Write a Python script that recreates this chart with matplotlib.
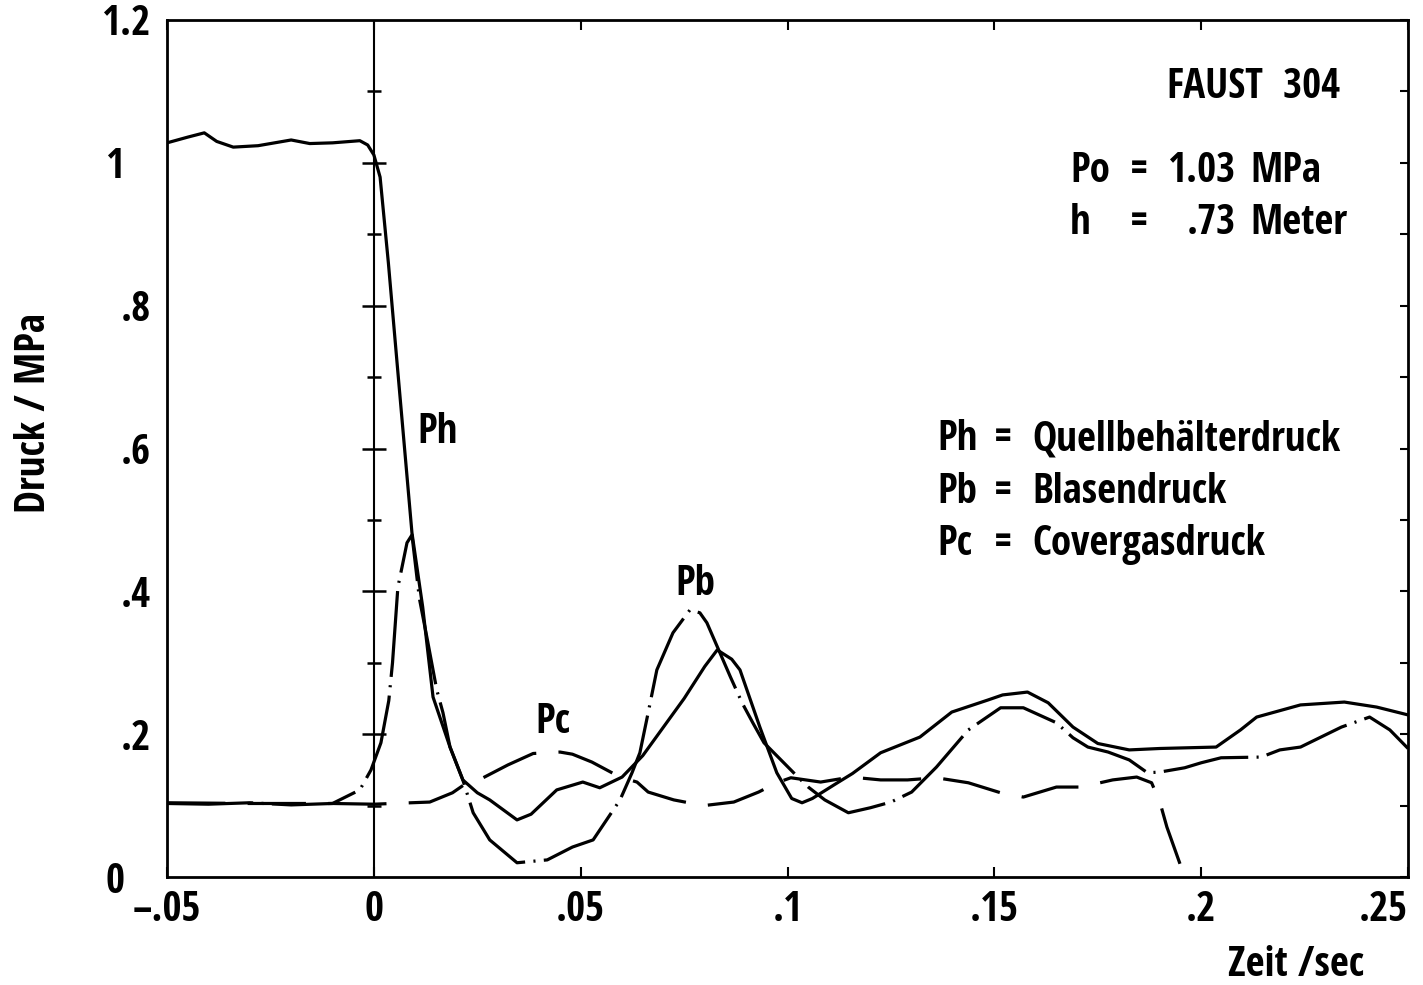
import numpy as np
import matplotlib
matplotlib.use("Agg")
import matplotlib.pyplot as plt
from matplotlib import font_manager as fm
from matplotlib.transforms import ScaledTranslation

plt.rcParams['lines.scale_dashes'] = False

# Ph = Quellbehaelterdruck (solid)
ph_t = [-0.05, -0.045, -0.041, -0.038, -0.034, -0.028, -0.020, -0.0155, -0.010,
        -0.0034, -0.0015, 0.0, 0.0015, 0.0035, 0.0056, 0.0092, 0.0118, 0.0143,
        0.0184, 0.0215, 0.025, 0.028, 0.0346, 0.038, 0.0442, 0.0505, 0.0546,
        0.060, 0.065, 0.070, 0.075, 0.080, 0.083, 0.0865, 0.0885, 0.0933,
        0.0974, 0.101, 0.1035, 0.106, 0.1115, 0.1157, 0.1225, 0.132, 0.1397,
        0.1485, 0.152, 0.158, 0.163, 0.169, 0.175, 0.1826, 0.190, 0.2036,
        0.2095, 0.2134, 0.224, 0.2346, 0.2424, 0.25]
ph_p = [1.028, 1.036, 1.042, 1.030, 1.022, 1.024, 1.032, 1.027, 1.028,
        1.031, 1.025, 1.011, 0.98, 0.86, 0.72, 0.482, 0.378, 0.252,
        0.182, 0.136, 0.118, 0.108, 0.080, 0.088, 0.122, 0.133, 0.125,
        0.140, 0.170, 0.210, 0.250, 0.295, 0.318, 0.305, 0.290, 0.210,
        0.146, 0.110, 0.104, 0.110, 0.130, 0.145, 0.174, 0.196, 0.231,
        0.248, 0.255, 0.259, 0.244, 0.210, 0.187, 0.178, 0.180, 0.182,
        0.206, 0.224, 0.241, 0.245, 0.238, 0.227]

# Pb = Blasendruck (dash-dot)
pb_t = [-0.05, -0.04, -0.03, -0.02, -0.01, -0.0034, -0.0007, 0.0017, 0.0036,
        0.0045, 0.0058, 0.0068, 0.008, 0.0092, 0.011, 0.013, 0.0152, 0.0167,
        0.0184, 0.0215, 0.024, 0.028, 0.0346, 0.0419, 0.048, 0.053, 0.0595,
        0.0624, 0.0643, 0.0663, 0.0684, 0.0723, 0.0764, 0.0788, 0.0805, 0.0862,
        0.089, 0.0916, 0.0943, 0.0984, 0.1025, 0.105, 0.109, 0.1147, 0.120,
        0.125, 0.130, 0.136, 0.1437, 0.1515, 0.157, 0.165, 0.169, 0.1726,
        0.1775, 0.1826, 0.187, 0.190, 0.196, 0.200, 0.2048, 0.2145, 0.219,
        0.224, 0.2339, 0.2407, 0.2456, 0.25]
pb_p = [0.103, 0.102, 0.104, 0.101, 0.103, 0.122, 0.150, 0.188, 0.247,
        0.300, 0.406, 0.434, 0.468, 0.479, 0.390, 0.330, 0.262, 0.230,
        0.182, 0.136, 0.090, 0.052, 0.020, 0.024, 0.042, 0.052, 0.108,
        0.146, 0.174, 0.230, 0.290, 0.342, 0.374, 0.370, 0.356, 0.280,
        0.244, 0.216, 0.188, 0.164, 0.140, 0.126, 0.108, 0.090, 0.097,
        0.105, 0.119, 0.154, 0.206, 0.237, 0.237, 0.216, 0.195, 0.182,
        0.175, 0.164, 0.146, 0.147, 0.153, 0.160, 0.167, 0.168, 0.178,
        0.182, 0.210, 0.224, 0.206, 0.180]

# Pc = Covergasdruck (long dashes)
pc_t = [-0.05, -0.03, -0.01, 0.0, 0.0135, 0.019, 0.0225, 0.0264, 0.0324,
        0.0385, 0.045, 0.048, 0.0527, 0.0595, 0.0636, 0.0663, 0.0725, 0.0797,
        0.087, 0.093, 0.0974, 0.1008, 0.108, 0.1153, 0.1225, 0.129, 0.136,
        0.1437, 0.1515, 0.157, 0.165, 0.171, 0.1786, 0.1844, 0.188, 0.190,
        0.1917, 0.196]
pc_p = [0.104, 0.103, 0.103, 0.102, 0.105, 0.118, 0.132, 0.139, 0.157,
        0.173, 0.175, 0.172, 0.161, 0.140, 0.133, 0.119, 0.108, 0.100,
        0.105, 0.119, 0.132, 0.139, 0.133, 0.140, 0.136, 0.136, 0.139,
        0.132, 0.118, 0.112, 0.126, 0.126, 0.136, 0.140, 0.132, 0.105,
        0.070, 0.0]

x_ticks = [-0.05, 0.0, 0.05, 0.1, 0.15, 0.2, 0.25]
x_labels = ['\u2013.05', '0', '.05', '.1', '.15', '.2', '.25']
y_ticks = [0.0, 0.2, 0.4, 0.6, 0.8, 1.0, 1.2]
y_labels = ['0', '.2', '.4', '.6', '.8', '1', '1.2']


def pick_font():
    # look for a narrow / condensed bold face, the original is Helvetica Condensed
    bold = [e for e in fm.fontManager.ttflist
            if str(e.weight) in ('700', 'bold') and e.style == 'normal']
    order = ['LiberationSansNarrow', 'NotoSans-CondensedBold', 'NotoSans-SemiCondensedBold',
             'OpenSans-CondBold', 'OpenSans_Condensed-Bold', 'Roboto_Condensed-Bold',
             'RobotoCondensed-Bold', 'DejaVuSansCondensed-Bold']
    for key in order:
        for e in bold:
            base = e.fname.split('/')[-1]
            if base.startswith(key) and ('Cond' in base or 'Narrow' in base):
                return e.fname
    for e in bold:
        base = e.fname.split('/')[-1]
        if ('Cond' in base or 'Narrow' in base) and 'Extra' not in base:
            return e.fname
    return None


font_file = pick_font()
if font_file:
    fs = 29.5
    prop = fm.FontProperties(fname=font_file, size=fs)
else:
    fs = 22
    prop = fm.FontProperties(family='DejaVu Sans', weight='bold', size=fs)

fig = plt.figure(figsize=(14.23, 9.85), dpi=100)
ax = fig.add_axes([0.1174, 0.1096, 0.9895 - 0.1174, 0.9797 - 0.1096])

ax.plot(ph_t, ph_p, color='black', lw=2.3, solid_joinstyle='round')
ax.plot(pb_t, pb_p, color='black', lw=2.3, dashes=(62, 6, 1.5, 6),
        dash_joinstyle='round')
ax.plot(pc_t, pc_p, color='black', lw=2.3, dashes=(42, 16), dash_joinstyle='round')

# vertical line at t = 0 with its own ticks
ax.axvline(0.0, color='black', lw=1.5)
mid = np.arange(1, 12) / 10.0
big = mid[1::2]
small = mid[0::2]
ax.plot(np.zeros_like(big), big, ls='none', marker='_', ms=17, mew=1.8, color='black')
ax.plot(np.zeros_like(small), small, ls='none', marker='_', ms=10, mew=1.8, color='black')

ax.set_xlim(-0.05, 0.25)
ax.set_ylim(0.0, 1.2)
ax.set_xticks(x_ticks)
ax.set_xticklabels(x_labels, fontproperties=prop)
ax.set_yticks(y_ticks)
ax.set_yticklabels(y_labels, fontproperties=prop)
ax.set_yticks(np.arange(0.1, 1.2, 0.2), minor=True)
ax.get_xticklabels()[-1].set_horizontalalignment('right')

for s in ax.spines.values():
    s.set_linewidth(2.0)

ax.tick_params(axis='x', which='both', direction='in', top=True, bottom=True,
               length=7, width=1.5, pad=9)
ax.tick_params(axis='y', which='both', direction='in', left=False, right=True,
               length=6, width=1.5, pad=12)

# integer labels sit left of the decimal point, like the original
shift = ScaledTranslation(-26 / 100, 0, fig.dpi_scale_trans)
for lab in ax.get_yticklabels():
    if '.' not in lab.get_text():
        lab.set_transform(lab.get_transform() + shift)

fig.text(35 / 1423, 1 - 413 / 985, 'Druck / MPa', fontproperties=prop,
         rotation=90, ha='center', va='center')
fig.text(1296 / 1423, 1 - 965 / 985, 'Zeit /sec', fontproperties=prop,
         ha='center', va='center')

# annotation block
ax.text(0.2335, 1.106, 'FAUST  304', fontproperties=prop, ha='right', va='center')
ax.text(0.1683, 0.988, 'Po', fontproperties=prop, ha='left', va='center')
ax.text(0.1850, 0.988, '=', fontproperties=prop, ha='center', va='center')
ax.text(0.1917, 0.988, '1.03', fontproperties=prop, ha='left', va='center')
ax.text(0.2118, 0.988, 'MPa', fontproperties=prop, ha='left', va='center')
ax.text(0.1683, 0.915, 'h', fontproperties=prop, ha='left', va='center')
ax.text(0.1850, 0.915, '=', fontproperties=prop, ha='center', va='center')
ax.text(0.1966, 0.915, '.73', fontproperties=prop, ha='left', va='center')
ax.text(0.2118, 0.915, 'Meter', fontproperties=prop, ha='left', va='center')

legend_rows = [('Ph', 'Quellbeh\u00e4lterdruck', 0.612),
               ('Pb', 'Blasendruck', 0.538),
               ('Pc', 'Covergasdruck', 0.465)]
for key, name, yy in legend_rows:
    ax.text(0.1361, yy, key, fontproperties=prop, ha='left', va='center')
    ax.text(0.1520, yy, '=', fontproperties=prop, ha='center', va='center')
    ax.text(0.1591, yy, name, fontproperties=prop, ha='left', va='center')

# curve labels
ax.text(0.0155, 0.622, 'Ph', fontproperties=prop, ha='center', va='center')
ax.text(0.0433, 0.217, 'Pc', fontproperties=prop, ha='center', va='center')
ax.text(0.0776, 0.409, 'Pb', fontproperties=prop, ha='center', va='center')

fig.savefig('out.png', dpi=100)
